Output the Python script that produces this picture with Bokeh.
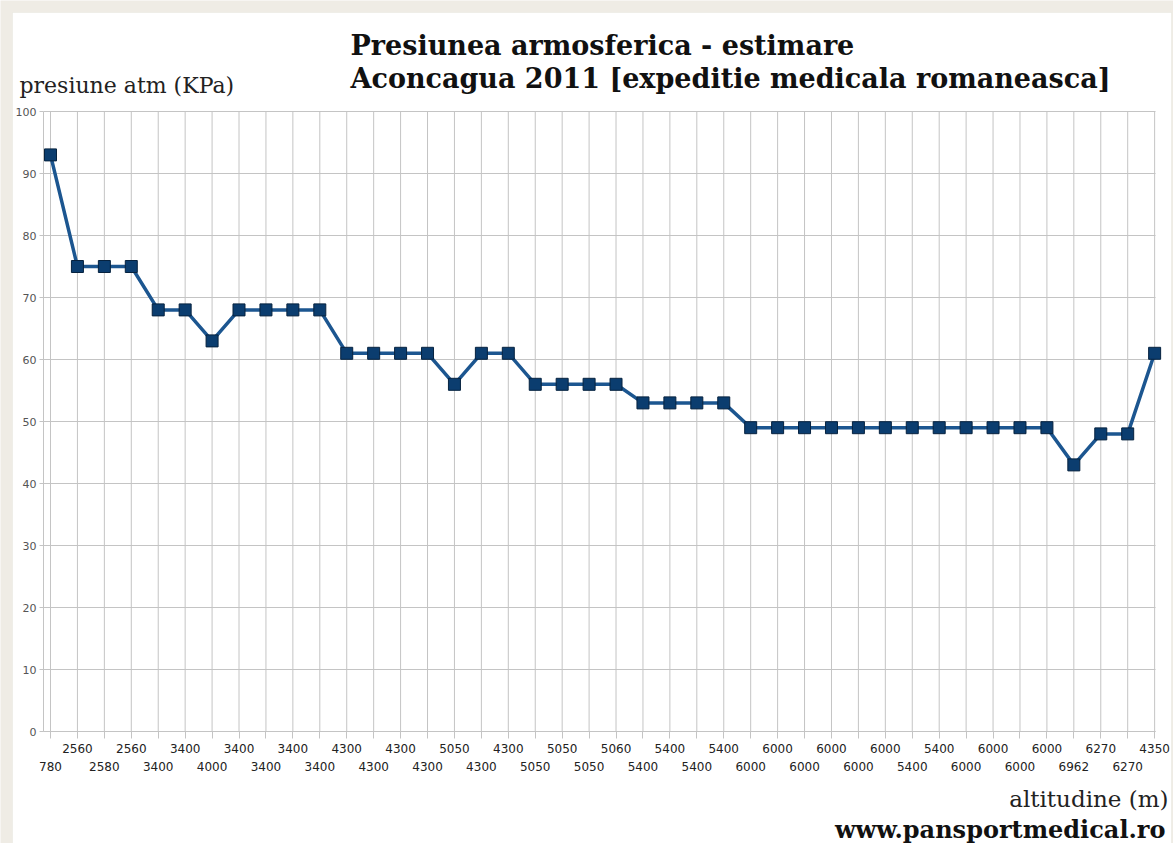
from bokeh.plotting import figure
from bokeh.models import FixedTicker, LinearAxis, Label, Range1d, BoxAnnotation
from bokeh.embed import file_html
from bokeh.resources import INLINE

# ---- data ----
altitudes = ["780", "2560", "2580", "2560", "3400", "3400", "4000", "3400", "3400", "3400",
             "3400", "4300", "4300", "4300", "4300", "5050", "4300", "4300", "5050", "5050",
             "5050", "5060", "5400", "5400", "5400", "5400", "6000", "6000", "6000", "6000",
             "6000", "6000", "5400", "5400", "6000", "6000", "6000", "6000", "6962", "6270",
             "6270", "4350"]
pressure = [93, 75, 75, 75, 68, 68, 63, 68, 68, 68,
            68, 61, 61, 61, 61, 56, 61, 61, 56, 56,
            56, 56, 53, 53, 53, 53, 49, 49, 49, 49,
            49, 49, 49, 49, 49, 49, 49, 49, 43, 48,
            48, 61]
y_ticks = [0, 10, 20, 30, 40, 50, 60, 70, 80, 90, 100]

idx = list(range(len(altitudes)))

W, H = 1173, 843
# pixel <-> data mapping (frame covers the whole canvas)
X0, DX = 50.0, 26.93   # pixel of first category, pixels per category
Y0, DY = 731.0, 6.2    # pixel of value 0, pixels per unit


def dx(px):
    return (px - X0) / DX


def dy(py):
    return (Y0 - py) / DY


p = figure(width=W, height=H, x_range=Range1d(dx(0), dx(W)), y_range=Range1d(dy(H), dy(0)),
           output_backend="svg", toolbar_location=None, x_axis_type=None, y_axis_type=None,
           min_border=0, background_fill_color="#efece5", border_fill_color="#efece5")
p.outline_line_color = None
p.xgrid.visible = False
p.ygrid.visible = False

# white chart panel
p.add_layout(BoxAnnotation(left=dx(12), right=dx(1171), top=dy(12), bottom=dy(H + 5),
                           fill_color="white", fill_alpha=1.0, line_color="#dedad2",
                           line_width=1, level="image"))

grid_col = "#c4c4c4"
x_lo, x_hi = dx(43), dx(1155)
y_lo, y_hi = y_ticks[0], y_ticks[-1]

# grid lines
p.segment(x0=[x_lo] * len(y_ticks), y0=y_ticks, x1=[x_hi] * len(y_ticks), y1=y_ticks,
          line_color=grid_col, line_width=1)
p.segment(x0=idx, y0=[y_lo] * len(idx), x1=idx, y1=[y_hi] * len(idx),
          line_color=grid_col, line_width=1)

# y axis
yax = LinearAxis(ticker=FixedTicker(ticks=y_ticks, minor_ticks=[]), fixed_location=x_lo,
                 bounds=(y_lo, y_hi), axis_line_color=grid_col, major_tick_line_color=grid_col,
                 major_tick_in=0, major_tick_out=4, minor_tick_line_color=None,
                 major_label_text_font="DejaVu Sans", major_label_text_font_size="11px",
                 major_label_text_color="#555555", major_label_standoff=3)
p.add_layout(yax, "left")

top_over = {i: (altitudes[i] if i % 2 == 1 else "") for i in idx}
bot_over = {i: altitudes[i] for i in idx if i % 2 == 0}

ax1 = LinearAxis(ticker=FixedTicker(ticks=idx, minor_ticks=[]), major_label_overrides=top_over,
                 fixed_location=0, bounds=(x_lo, x_hi),
                 axis_line_color=grid_col, major_tick_line_color=grid_col, major_tick_in=0,
                 major_tick_out=7, minor_tick_line_color=None, major_label_standoff=5,
                 major_label_text_font="DejaVu Sans", major_label_text_font_size="12px",
                 major_label_text_color="#222222")
ax2 = LinearAxis(ticker=FixedTicker(ticks=[i for i in idx if i % 2 == 0], minor_ticks=[]),
                 major_label_overrides=bot_over, fixed_location=0, bounds=(x_lo, x_hi),
                 axis_line_color=None, major_tick_line_color=None, major_tick_in=0,
                 major_tick_out=0, minor_tick_line_color=None, major_label_standoff=30,
                 major_label_text_font="DejaVu Sans", major_label_text_font_size="12px",
                 major_label_text_color="#222222")
p.add_layout(ax1, "below")
p.add_layout(ax2, "below")

# series
p.line(idx, pressure, line_color="#1c5690", line_width=3.5)
p.scatter(idx, pressure, marker="square", size=12, fill_color="#0b3d6f",
          line_color="#06223f", line_width=1)

serif = "DejaVu Serif"
p.add_layout(Label(x=dx(350), y=dy(45), text="Presiunea armosferica - estimare", text_font=serif,
                   text_font_style="bold", text_font_size="27px", text_color="#111111",
                   text_baseline="alphabetic", text_align="left"))
p.add_layout(Label(x=dx(350), y=dy(78), text="Aconcagua 2011 [expeditie medicala romaneasca]",
                   text_font=serif, text_font_style="bold", text_font_size="27px",
                   text_color="#111111", text_baseline="alphabetic", text_align="left"))
p.add_layout(Label(x=dx(19), y=dy(85), text="presiune atm (KPa)", text_font=serif,
                   text_font_size="22px", text_color="#222222",
                   text_baseline="alphabetic", text_align="left"))
p.add_layout(Label(x=dx(1168), y=dy(798), text="altitudine (m)", text_font=serif,
                   text_font_size="23px", text_color="#222222",
                   text_baseline="alphabetic", text_align="right"))
p.add_layout(Label(x=dx(1165), y=dy(829), text="www.pansportmedical.ro", text_font=serif,
                   text_font_style="bold", text_font_size="24px", text_color="#111111",
                   text_baseline="alphabetic", text_align="right"))

open("out.html", "w").write(file_html(p, INLINE))
